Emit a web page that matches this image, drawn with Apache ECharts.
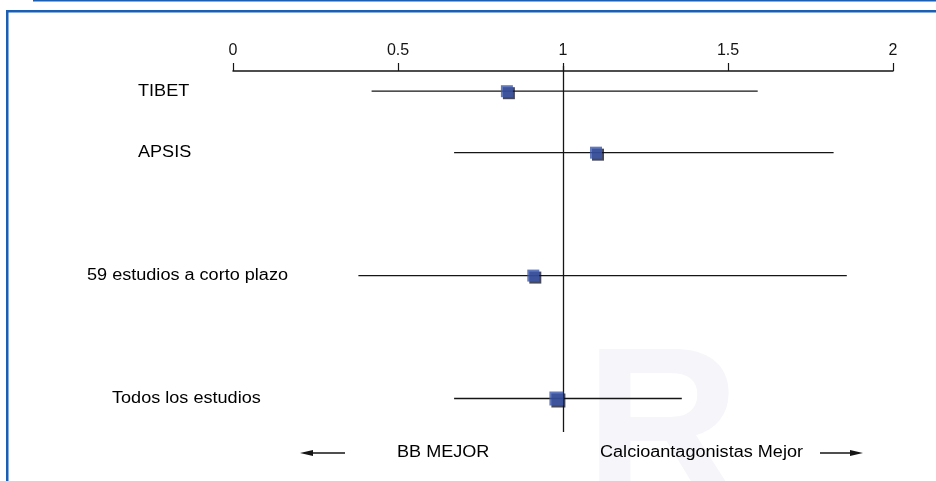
<!DOCTYPE html>
<html>
<head>
<meta charset="utf-8">
<script src="https://cdn.jsdelivr.net/npm/echarts@6/dist/echarts.min.js"></script>
<style>
  html, body { margin: 0; padding: 0; background: #ffffff; }
  #chart { width: 936px; height: 481px; }
</style>
</head>
<body>
<div id="chart"></div>
<script>
// Row slots down the plot (blank slots leave gaps between groups)
const rowSlots = ['TIBET', 'APSIS', '', '59 estudios a corto plazo', '', 'Todos los estudios'];
// Studies, point estimates and confidence limits
const studies = ['TIBET', 'APSIS', '59 estudios a corto plazo', 'Todos los estudios'];
const estimates = [0.83, 1.10, 0.91, 0.98];
const lowerCI = [0.42, 0.67, 0.38, 0.67];
const upperCI = [1.59, 1.82, 1.86, 1.36];
// Axis ticks
const xTicks = [0, 0.5, 1, 1.5, 2];
const footerLeft = 'BB MEJOR';
const footerRight = 'Calcioantagonistas Mejor';

// Layout / styling
const FONT = '"Liberation Sans", Arial, sans-serif';
const TEXT_STRETCH = 1.13;
const labelLeft = [138, 138, 87, 112];
const BLUE = '#1a5fb4';
const INK = '#151515';

const chart = echarts.init(document.getElementById('chart'), null, { renderer: 'canvas' });

const ciData = studies.map((s, i) => [rowSlots.indexOf(s), lowerCI[i], upperCI[i]]);
const pointData = studies.map((s, i) => ({
  value: [estimates[i], rowSlots.indexOf(s)],
  symbolSize: i === studies.length - 1 ? 14 : 12
}));

chart.setOption({
  animation: false,
  backgroundColor: '#ffffff',
  grid: { left: 233, right: 43, top: 66, height: 366 },
  xAxis: {
    type: 'value',
    position: 'top',
    offset: -5,
    min: xTicks[0],
    max: xTicks[xTicks.length - 1],
    interval: xTicks[1] - xTicks[0],
    axisLine: { show: true, onZero: false, lineStyle: { color: INK, width: 1.5 } },
    axisTick: { show: true, length: 8, lineStyle: { color: INK, width: 1.2 } },
    axisLabel: { fontSize: 16, color: INK, fontFamily: FONT, margin: 12 },
    splitLine: { show: false }
  },
  yAxis: {
    type: 'value',
    inverse: true,
    min: -0.41,
    max: 5.545,
    show: false
  },
  series: [
    {
      type: 'custom',
      encode: { x: [1, 2], y: 0 },
      data: ciData,
      z: 2,
      renderItem: function (params, api) {
        const row = api.value(0);
        const lo = api.coord([api.value(1), row]);
        const hi = api.coord([api.value(2), row]);
        const i = params.dataIndex;
        return {
          type: 'group',
          children: [
            {
              type: 'line',
              shape: { x1: lo[0], y1: lo[1], x2: hi[0], y2: hi[1] },
              style: { stroke: INK, lineWidth: 1.3 }
            },
            {
              type: 'text',
              x: labelLeft[i],
              y: lo[1],
              scaleX: TEXT_STRETCH,
              style: {
                text: studies[i],
                fontSize: 16,
                fontFamily: FONT,
                fill: '#000',
                align: 'left',
                verticalAlign: 'middle'
              }
            }
          ]
        };
      }
    },
    {
      type: 'scatter',
      symbol: 'rect',
      data: pointData,
      z: 5,
      itemStyle: {
        color: '#3c58ac',
        shadowColor: 'rgba(10,15,40,0.95)',
        shadowOffsetX: 2,
        shadowOffsetY: 2,
        shadowBlur: 0
      },
      markLine: {
        silent: true,
        symbol: ['none', 'none'],
        label: { show: false },
        lineStyle: { color: INK, width: 1.3, type: 'solid' },
        data: [{ xAxis: 1 }]
      }
    }
  ],
  graphic: [
    // faint watermark letter
    {
      type: 'text', left: 585, top: 330, z: -10, silent: true,
      style: { text: 'R', fontSize: 215, fontWeight: 'bold', fontFamily: FONT, fill: '#f5f5fa' }
    },
    // frame
    { type: 'rect', shape: { x: 33, y: 0, width: 903, height: 1.5 }, style: { fill: BLUE } },
    { type: 'rect', shape: { x: 6, y: 10, width: 930, height: 2.5 }, style: { fill: BLUE } },
    { type: 'rect', shape: { x: 6, y: 10, width: 2.5, height: 471 }, style: { fill: BLUE } },
    // direction arrows
    { type: 'line', shape: { x1: 311, y1: 453, x2: 345, y2: 453 }, style: { stroke: INK, lineWidth: 1.5 } },
    { type: 'polygon', shape: { points: [[300, 453], [313, 450], [313, 456]] }, style: { fill: INK } },
    { type: 'line', shape: { x1: 820, y1: 453, x2: 852, y2: 453 }, style: { stroke: INK, lineWidth: 1.5 } },
    { type: 'polygon', shape: { points: [[863, 453], [850, 450], [850, 456]] }, style: { fill: INK } },
    // footer captions
    {
      type: 'text', x: 397, y: 453, scaleX: TEXT_STRETCH,
      style: { text: footerLeft, fontSize: 16, fontFamily: FONT, fill: '#000', align: 'left', verticalAlign: 'middle' }
    },
    {
      type: 'text', x: 600, y: 453, scaleX: TEXT_STRETCH,
      style: { text: footerRight, fontSize: 16, fontFamily: FONT, fill: '#000', align: 'left', verticalAlign: 'middle' }
    }
  ]
});
</script>
</body>
</html>
